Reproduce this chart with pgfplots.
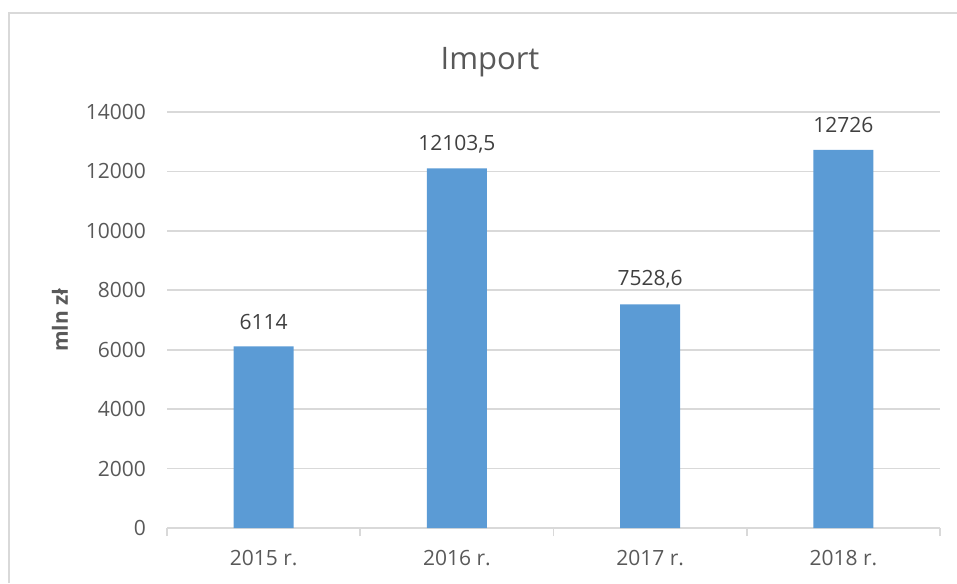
\documentclass[border=0pt]{standalone}
\usepackage{fontspec}
\setmainfont{Open Sans}
\usepackage{pgfplots}
\pgfplotsset{compat=1.18}

\definecolor{barblue}{HTML}{5B9BD5}
\definecolor{gridgray}{HTML}{D9D9D9}
\definecolor{txtgray}{HTML}{595959}
\definecolor{lblgray}{HTML}{404040}

\begin{document}
\begin{tikzpicture}
% page = 957x583 px at 0.5pt per px
\useasboundingbox (0,0) rectangle (478.5pt,291.5pt);
\draw[gridgray, line width=0.8pt] (4.5pt,0pt) -- (4.5pt,285pt) -- (478.5pt,285pt);
\node[txtgray, font=\fontsize{15.5}{18}\selectfont] at (245pt,260.5pt) {Import};
\begin{axis}[
    at={(83.5pt,27.5pt)}, anchor=south west,
    scale only axis,
    width=386.5pt, height=208pt,
    ybar, bar width=30pt,
    xmin=-0.5, xmax=3.5,
    ymin=0, ymax=14000,
    xtick={0,1,2,3},
    xticklabels={2015 r., 2016 r., 2017 r., 2018 r.},
    minor xtick={-0.5,0.5,1.5,2.5,3.5},
    ytick={0,2000,...,14000},
    scaled y ticks=false,
    axis lines*=left,
    x axis line style={draw=gridgray, line width=0.8pt, -},
    y axis line style={draw=none},
    tick align=outside,
    major tick length=0pt,
    minor tick length=4pt,
    minor x tick style={draw=gridgray, line width=0.8pt},
    major tick style={draw=none},
    ymajorgrids,
    grid style={draw=gridgray, line width=0.8pt},
    ticklabel style={txtgray, font=\fontsize{10.5}{12}\selectfont},
    xticklabel style={anchor=center, yshift=-15pt},
    yticklabel style={anchor=east, xshift=-7pt},
    /pgf/number format/use comma,
    /pgf/number format/1000 sep={},
    /pgf/number format/assume math mode=true,
    ylabel={mln zł},
    ylabel style={at={(axis description cs:-0.1384,0.5)}, anchor=center,
        txtgray, font=\fontsize{10.5}{12}\selectfont\bfseries},
    nodes near coords,
    nodes near coords style={anchor=center, yshift=12.3pt, lblgray,
        font=\fontsize{10.5}{12}\selectfont},
]
\addplot[fill=barblue, draw=none] coordinates {
    (0,6114)
    (1,12103.5)
    (2,7528.6)
    (3,12726)
};
\end{axis}
\end{tikzpicture}
\end{document}
